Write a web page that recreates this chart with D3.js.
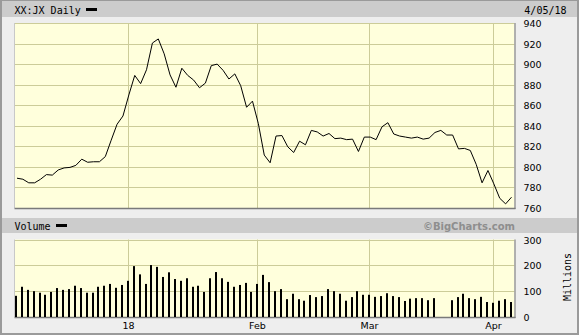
<!DOCTYPE html>
<html>
<head>
<meta charset="utf-8">
<script src="https://cdn.jsdelivr.net/npm/d3@7"></script>
<style>
    html, body { margin: 0; padding: 0; background: #eeeeee; }
    svg { display: block; }
</style>
</head>
<body>
<div id="chart"></div>
<script>
// Datos (un valor por sesión)
const priceValues = [
    789, 788, 784.5, 784.5, 788, 792.5, 792, 797, 799, 799.5,
    801.5, 807.5, 804.5, 805, 805, 810, 826, 841.5, 849.5, 870,
    889, 881, 894.5, 920.5, 924.5, 910, 889.5, 877.5, 896, 889,
    884.5, 877, 881.5, 898.5, 900, 894, 885.5, 890.5, 879, 858,
    864, 842, 811.5, 804, 830, 830.5, 819.5, 814, 825, 821.5,
    835.5, 834, 830, 832.5, 827.5, 828, 826.5, 827, 815, 829,
    829, 826.5, 839, 843, 832, 830, 829, 828, 829, 827,
    828, 833.5, 835.5, 831, 831, 817.5, 818, 816, 802.5, 784.5,
    796.5, 783.5, 769.5, 764, 770.5
];

// Volumen en millones (null = sin dato)
const volumeValues = [
    82, 117, 105, 100, 94, 86, 97, 112, 105, 108,
    121, 112, 94, 94, 117, 121, 128, 113, 124, 140,
    197, 165, 128, 201, 194, 155, 173, 147, 140, 150,
    117, 121, 97, 150, 174, 150, 136, 117, 124, 132,
    97, 128, 163, 135, 100, 108, 69, 90, 69, 63,
    85, 77, 81, 108, 100, 90, 63, 77, 100, 86,
    86, 78, 81, 92, 81, 77, 62, 71, 73, 73,
    65, 73, null, null, 65, 77, 90, 73, 69, 78,
    58, 55, 63, 69, 58
];

// Primer día de cada mes (índice de sesión) y su etiqueta
const monthTickIndex = [19, 41, 60, 81];
const monthTickLabels = ["18", "Feb", "Mar", "Apr"];

const priceTicks = [760, 780, 800, 820, 840, 860, 880, 900, 920, 940];
const volumeTicks = [0, 100, 200, 300];

const title = "XX:JX Daily";
const dateLabel = "4/05/18";

const width = 579;
const height = 335;
const monoFont = "'DejaVu Sans Mono', monospace";
const sansFont = "'DejaVu Sans', sans-serif";
const gridColor = "#cccc99";
const plotFill = "#ffffdc";

const svg = d3.select("#chart")
    .append("svg")
    .attr("width", width)
    .attr("height", height);

// Marco exterior
svg.append("rect").attr("x", 0).attr("y", 0).attr("width", width).attr("height", height).attr("fill", "#9a9a9a");
svg.append("rect").attr("x", 2).attr("y", 1).attr("width", 575).attr("height", 332).attr("fill", "#eeeeee");

// Escalas
const plotLeft = 14.5, plotRight = 514.5;
const x = d3.scaleLinear().domain([0, priceValues.length - 1]).range([16, 510.5]);
const yPrice = d3.scaleLinear().domain([760, 940]).range([208, 23]);
const yVol = d3.scaleLinear().domain([0, 300]).range([317, 239.5]);

// Barras de cabecera
function headerBar(y0, h) {
    svg.append("rect")
        .attr("x", 2).attr("y", y0)
        .attr("width", 575).attr("height", h)
        .attr("fill", "#cccccc");
}
headerBar(1, 16);
headerBar(218, 15);

svg.append("text")
    .attr("x", 14.5).attr("y", 13.5)
    .attr("font-family", monoFont).attr("font-size", "10px")
    .attr("fill", "#000")
    .text(title);
svg.append("rect").attr("x", 86).attr("y", 8).attr("width", 11).attr("height", 3).attr("fill", "#000");

svg.append("text")
    .attr("x", 566.5).attr("y", 13.5)
    .attr("text-anchor", "end")
    .attr("font-family", monoFont).attr("font-size", "10px")
    .attr("fill", "#000")
    .text(dateLabel);

svg.append("text")
    .attr("x", 14.5).attr("y", 229.5)
    .attr("font-family", monoFont).attr("font-size", "10px")
    .attr("fill", "#000")
    .text("Volume");
svg.append("rect").attr("x", 56).attr("y", 224).attr("width", 11).attr("height", 3).attr("fill", "#000");

svg.append("text")
    .attr("x", 515).attr("y", 229.5)
    .attr("text-anchor", "end")
    .attr("font-family", sansFont).attr("font-size", "10px")
    .attr("font-weight", "bold")
    .attr("fill", "#8e8e8e")
    .text("\u00A9BigCharts.com");

// Función para dibujar un panel con fondo, rejilla y etiquetas
function drawPanel(yScale, ticks) {
    const top = yScale.range()[1];
    const bottom = yScale.range()[0];
    const g = svg.append("g");

    g.append("rect")
        .attr("x", plotLeft).attr("y", top)
        .attr("width", plotRight - plotLeft).attr("height", bottom - top)
        .attr("fill", plotFill);

    // Líneas horizontales
    ticks.forEach(t => {
        const yy = Math.round(yScale(t)) + 0.5;
        if (t === yScale.domain()[0]) return;
        g.append("line")
            .attr("x1", plotLeft).attr("x2", plotRight)
            .attr("y1", yy).attr("y2", yy)
            .attr("stroke", gridColor).attr("stroke-width", 1);
    });

    // Líneas verticales de meses
    monthTickIndex.forEach(i => {
        const xx = Math.round(x(i)) + 0.5;
        g.append("line")
            .attr("x1", xx).attr("x2", xx)
            .attr("y1", top).attr("y2", bottom)
            .attr("stroke", gridColor).attr("stroke-width", 1);
    });

    // Bordes: izquierdo claro, derecho e inferior oscuros
    g.append("line").attr("x1", plotLeft).attr("x2", plotLeft).attr("y1", top).attr("y2", bottom)
        .attr("stroke", "#c8c8c8");
    g.append("line").attr("x1", plotRight + 0.5).attr("x2", plotRight + 0.5).attr("y1", top).attr("y2", bottom + 1)
        .attr("stroke", "#9a9a9a").attr("stroke-width", 1.5);
    g.append("line").attr("x1", plotLeft).attr("x2", plotRight + 1).attr("y1", bottom + 0.5).attr("y2", bottom + 0.5)
        .attr("stroke", "#7a7a7a").attr("stroke-width", 1.5);

    // Etiquetas del eje derecho
    ticks.forEach(t => {
        svg.append("text")
            .attr("x", 523.5).attr("y", yScale(t) + 4)
            .attr("font-family", sansFont).attr("font-size", "9.5px")
            .attr("fill", "#000")
            .text(t);
    });
    return g;
}

drawPanel(yPrice, priceTicks);
drawPanel(yVol, volumeTicks);

// Línea de precio
const line = d3.line()
    .x((d, i) => x(i) + 1)
    .y(d => yPrice(d));

svg.append("path")
    .datum(priceValues)
    .attr("fill", "none")
    .attr("stroke", "#000")
    .attr("stroke-width", 1)
    .attr("stroke-linejoin", "round")
    .attr("d", line);

// Barras de volumen
svg.append("g")
    .selectAll("rect")
    .data(volumeValues.map((v, i) => ({ v, i })).filter(d => d.v !== null))
    .join("rect")
    .attr("x", d => Math.round(x(d.i)) - 1)
    .attr("y", d => yVol(d.v))
    .attr("width", 2)
    .attr("height", d => yVol(0) - yVol(d.v))
    .attr("fill", "#000");

// Etiquetas de meses
monthTickIndex.forEach((idx, k) => {
    svg.append("text")
        .attr("x", Math.round(x(idx)) + 0.5).attr("y", 329)
        .attr("text-anchor", "middle")
        .attr("font-family", sansFont).attr("font-size", "9.5px")
        .attr("fill", "#000")
        .text(monthTickLabels[k]);
});

// Título del eje de volumen
svg.append("text")
    .attr("transform", "translate(570.5, 277) rotate(-90)")
    .attr("text-anchor", "middle")
    .attr("font-family", monoFont).attr("font-size", "10px")
    .attr("fill", "#000")
    .text("Millions");
</script>
</body>
</html>
